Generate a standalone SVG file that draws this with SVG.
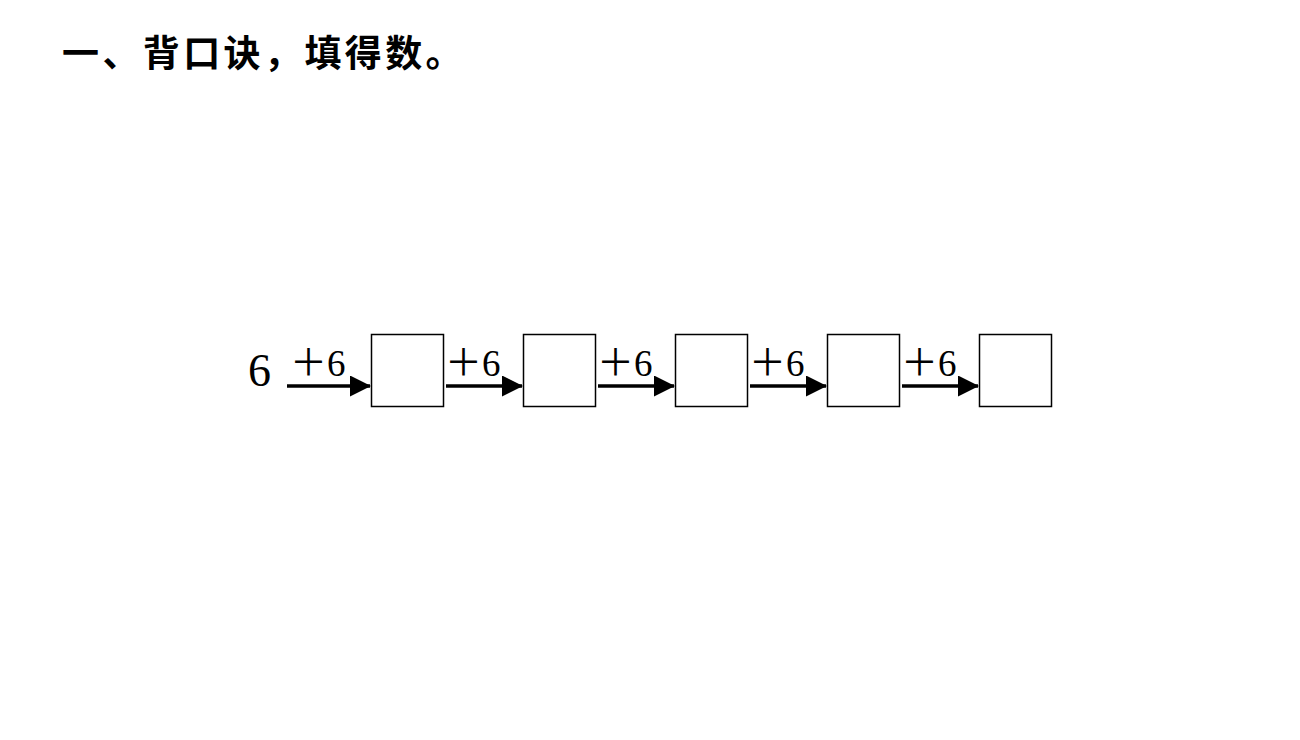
<svg xmlns="http://www.w3.org/2000/svg" width="1300" height="740" viewBox="0 0 1300 740">
<style>
.title{font-family:"Noto Sans CJK SC","Noto Sans CJK TC",sans-serif;font-size:37px;font-weight:bold;fill:#000;letter-spacing:3.4px}
.num{font-family:"Liberation Serif","Noto Sans CJK SC",serif;fill:#000}
.box{fill:#fff;stroke:#000;stroke-width:1.5}
.arr{stroke:#000;stroke-width:3.5;fill:none}
</style>
<defs>
<marker id="ah" markerUnits="userSpaceOnUse" markerWidth="22" markerHeight="22" refX="20" refY="10.5" orient="auto">
<path d="M0,0 L21,10.5 L0,21 Z" fill="#000"/>
</marker>
</defs>
<rect width="1300" height="740" fill="#fff"/>
<text class="title" x="62" y="67">一、背口诀，填得数。</text>
<g id="start"><text class="num" x="248" y="386" font-size="46">6</text></g>
<g id="connectors">
<line class="arr" x1="287" y1="386" x2="370" y2="386" marker-end="url(#ah)"/>
<line class="arr" x1="446" y1="386" x2="522" y2="386" marker-end="url(#ah)"/>
<line class="arr" x1="598" y1="386" x2="674" y2="386" marker-end="url(#ah)"/>
<line class="arr" x1="750" y1="386" x2="826" y2="386" marker-end="url(#ah)"/>
<line class="arr" x1="902" y1="386" x2="978" y2="386" marker-end="url(#ah)"/>
<text class="num" x="290" y="376" font-size="37">＋6</text>
<text class="num" x="445" y="376" font-size="37">＋6</text>
<text class="num" x="597" y="376" font-size="37">＋6</text>
<text class="num" x="749" y="376" font-size="37">＋6</text>
<text class="num" x="901" y="376" font-size="37">＋6</text>
</g>
<g id="box1"><rect class="box" x="371.5" y="334.5" width="72" height="72"/></g>
<g id="box2"><rect class="box" x="523.5" y="334.5" width="72" height="72"/></g>
<g id="box3"><rect class="box" x="675.5" y="334.5" width="72" height="72"/></g>
<g id="box4"><rect class="box" x="827.5" y="334.5" width="72" height="72"/></g>
<g id="box5"><rect class="box" x="979.5" y="334.5" width="72" height="72"/></g>
</svg>
